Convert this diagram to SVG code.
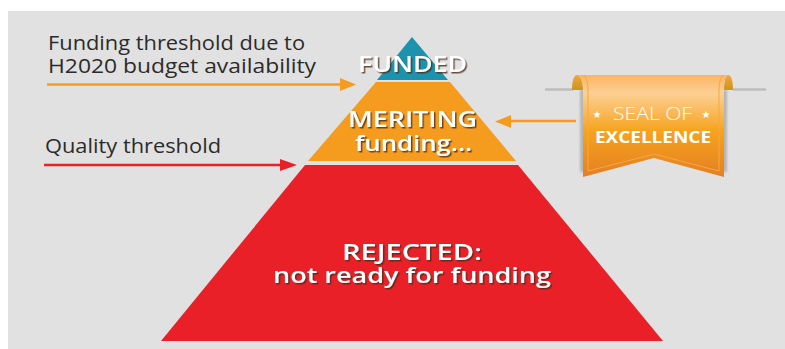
<svg xmlns="http://www.w3.org/2000/svg" width="785" height="349" viewBox="0 0 785 349">
<style>
.lbl{font-family:"Open Sans","DejaVu Sans",sans-serif;font-size:20px;fill:#2b2b2b}
.w{font-family:"Open Sans","DejaVu Sans",sans-serif;font-weight:600;fill:#fff;text-anchor:middle;font-size:22px;filter:url(#ts)}
.line{fill:none;stroke-width:2.5}
</style>
<defs>
<linearGradient id="rib" x1="0" y1="0" x2="0" y2="1"><stop offset="0" stop-color="#fbb463"/><stop offset=".18" stop-color="#fcd093"/><stop offset=".55" stop-color="#f6a31c"/><stop offset="1" stop-color="#e47f24"/></linearGradient>
<linearGradient id="fold" x1="0" y1="0" x2="0" y2="1"><stop offset="0" stop-color="#f3a53c"/><stop offset="1" stop-color="#c9961f"/></linearGradient>
<filter id="blur" x="-20%" y="-20%" width="140%" height="140%"><feGaussianBlur stdDeviation="1.2"/></filter>
<filter id="ts" x="-10%" y="-20%" width="120%" height="150%"><feDropShadow dx="1.500" dy="1.500" stdDeviation=".4" flood-color="#4a2a14" flood-opacity=".8"/></filter>
</defs>
<rect x="0" y="0" width="785" height="349" fill="#fff"/>
<rect x="8" y="11" width="777" height="338" fill="#e1e1e1"/>
<g id="connectors">
<path class="line" d="M47 84.500H342" stroke="#f59c1f"/><path d="M340 78L356 84.500L340 91Z" fill="#f59c1f"/>
<path class="line" d="M44 165H282" stroke="#e92027"/><path d="M280 159L297 165L280 171Z" fill="#e92027"/>
<path class="line" d="M576 121H509" stroke="#f59c1f"/><path d="M511 115L495 121.500L511 128Z" fill="#f59c1f"/>
</g>
<g id="label-funding"><text class="lbl" x="48" y="50" textLength="257" lengthAdjust="spacingAndGlyphs">Funding threshold due to</text><text class="lbl" x="48" y="73" textLength="268" lengthAdjust="spacingAndGlyphs">H2020 budget availability</text></g>
<g id="label-quality"><text class="lbl" x="45" y="153" textLength="176" lengthAdjust="spacingAndGlyphs">Quality threshold</text></g>
<g id="node-funded"><path d="M412 37L448 80H377Z" fill="#1c93ad"/>
<text class="w" x="412.500" y="72" textLength="109" lengthAdjust="spacingAndGlyphs">FUNDED</text></g>
<g id="node-meriting"><path d="M376 82H450L516 161H308Z" fill="#f59c1f"/>
<text class="w" x="412.500" y="127" textLength="129" lengthAdjust="spacingAndGlyphs">MERITING</text>
<text class="w" x="413.500" y="151" textLength="117" lengthAdjust="spacingAndGlyphs">funding...</text></g>
<g id="node-rejected"><path d="M305 165H518L663 341H161Z" fill="#e92027"/>
<text class="w" x="412" y="260" textLength="140" lengthAdjust="spacingAndGlyphs">REJECTED:</text>
<text class="w" x="412" y="283" textLength="278" lengthAdjust="spacingAndGlyphs">not ready for funding</text></g>
<g id="node-seal">
<path d="M545 89.500H573M733 89.500H766" stroke="#bdbdbd" stroke-width="2.500" fill="none"/>
<path d="M580 90H586V172H580ZM721 90H727V172H721Z" fill="#9a9a9a" opacity=".6" filter="url(#blur)"/>
<path d="M572 90C572 80 574 75 577 75C581 76 583 82 583 90Z" fill="url(#fold)"/>
<path d="M733 90C733 80 731 75 728 75C725 76 724 82 724 90Z" fill="url(#fold)"/>
<path d="M577 75H728C725 76 724 82 724 90V177L654 158L583 177V90C583 82 581 76 577 75Z" fill="url(#rib)"/>
<path d="M584 75C587 79 588 84 588 92V171L654 154L719 171V92C719 84 720 79 723 75" fill="none" stroke="#f6a742" stroke-width="1"/>
<text x="597" y="118" font-family="DejaVu Sans,sans-serif" font-size="10" fill="#fff" text-anchor="middle">★</text>
<text x="706" y="118" font-family="DejaVu Sans,sans-serif" font-size="10" fill="#fff" text-anchor="middle">★</text>
<text x="652.500" y="120" font-family="Open Sans,sans-serif" font-size="18" font-weight="300" fill="#fff" text-anchor="middle" textLength="79" lengthAdjust="spacingAndGlyphs">SEAL OF</text>
<text x="653" y="143" font-family="Open Sans,sans-serif" font-size="16" font-weight="700" fill="#fff" text-anchor="middle" textLength="116" lengthAdjust="spacingAndGlyphs">EXCELLENCE</text>
</g>
</svg>
